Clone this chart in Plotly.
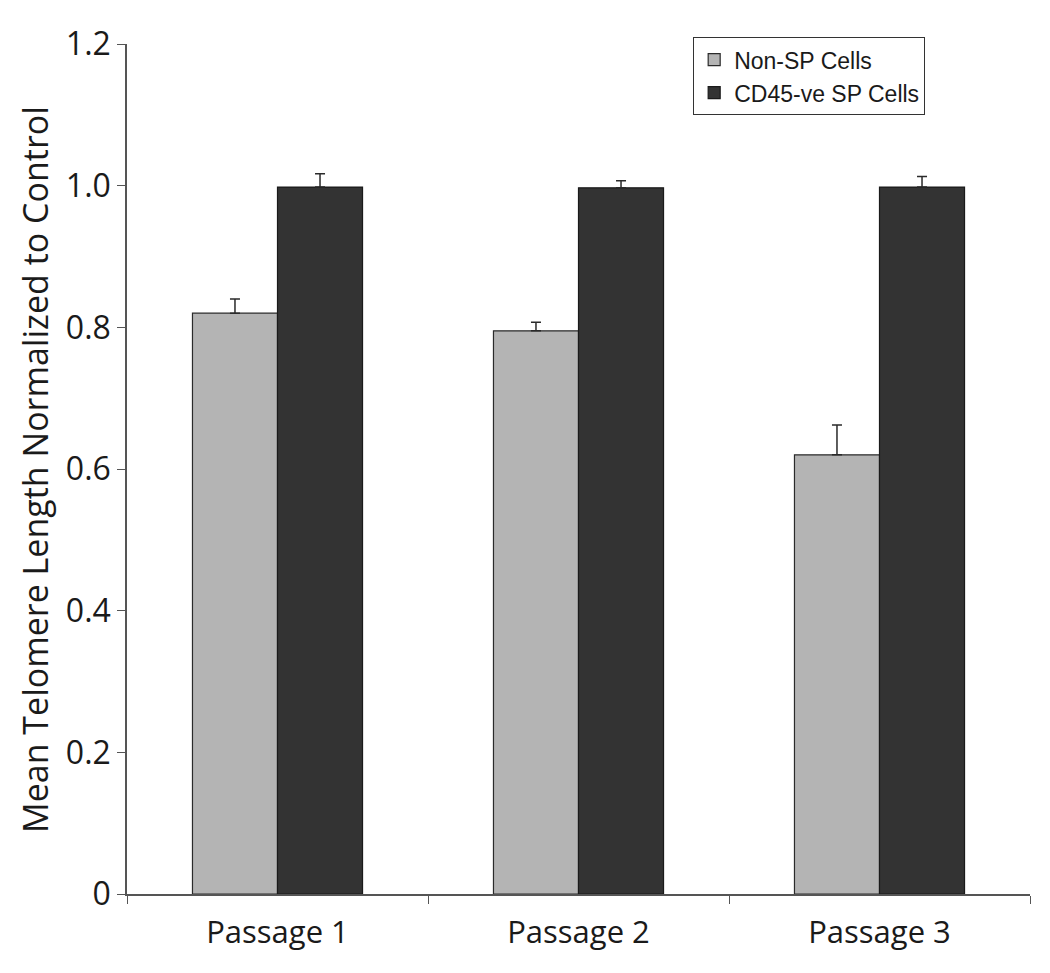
import plotly.graph_objects as go

categories = ["Passage 1", "Passage 2", "Passage 3"]
non_sp = [0.820, 0.795, 0.620]
non_sp_err = [0.020, 0.012, 0.042]
cd45 = [0.998, 0.997, 0.998]
cd45_err = [0.019, 0.010, 0.015]
ytick_vals = [0, 0.2, 0.4, 0.6, 0.8, 1.0, 1.2]
ytick_text = ["0", "0.2", "0.4", "0.6", "0.8", "1.0", "1.2"]
y_title = "Mean Telomere Length Normalized to Control"

fig = go.Figure()
fig.add_trace(go.Bar(
    x=categories, y=non_sp, name="Non-SP Cells",
    marker=dict(color="#b4b4b4", line=dict(color="#2a2a2a", width=1.2)),
    error_y=dict(type="data", array=non_sp_err, arrayminus=[0, 0, 0], symmetric=False,
                 color="#2a2a2a", thickness=1.5, width=5),
))
fig.add_trace(go.Bar(
    x=categories, y=cd45, name="CD45-ve SP Cells",
    marker=dict(color="#333333", line=dict(color="#1a1a1a", width=1.2)),
    error_y=dict(type="data", array=cd45_err, arrayminus=[0, 0, 0], symmetric=False,
                 color="#2a2a2a", thickness=1.5, width=5),
))

fig.update_layout(
    width=1034, height=957,
    paper_bgcolor="white", plot_bgcolor="white",
    margin=dict(l=119, r=12, t=36, b=71, autoexpand=False),
    barmode="group", bargap=0.435, bargroupgap=0,
    font=dict(family="Open Sans", color="#1a1a1a"),
    showlegend=True,
    legend=dict(
        x=0.627, y=1.008, xanchor="left", yanchor="top",
        bordercolor="#333333", borderwidth=1, bgcolor="white",
        font=dict(family="Liberation Sans, Arial", size=23, color="#1a1a1a"),
        tracegroupgap=0, itemwidth=30,
    ),
    xaxis=dict(
        automargin=False,
        showline=True, linecolor="#555555", linewidth=1.5,
        ticks="outside", tickson="boundaries", ticklen=8, tickcolor="#555555",
        tickfont=dict(family="Open Sans", size=31, color="#1a1a1a"),
        ticklabelstandoff=10,
        showgrid=False,
    ),
    yaxis=dict(
        automargin=False,
        range=[0, 1.2], tickvals=ytick_vals, ticktext=ytick_text,
        showline=True, linecolor="#555555", linewidth=1.5,
        ticks="outside", ticklen=8, tickcolor="#555555",
        tickfont=dict(family="Open Sans", size=32, color="#1a1a1a"),
        showgrid=False, zeroline=False,
    ),
    annotations=[dict(
        text=y_title, textangle=-90, showarrow=False,
        xref="paper", yref="paper", x=-0.102, y=0.5,
        xanchor="center", yanchor="middle",
        font=dict(family="Open Sans", size=34, color="#1a1a1a"),
    )],
)

fig.write_html("out.html")
